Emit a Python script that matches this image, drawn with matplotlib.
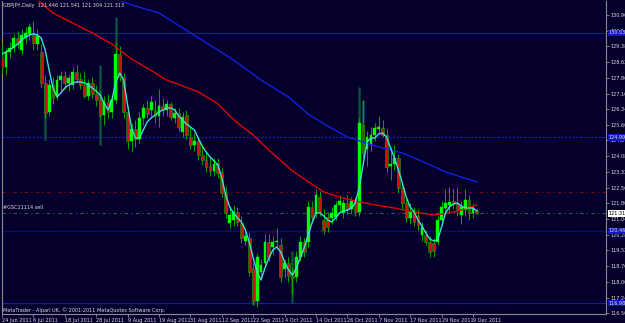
import matplotlib
matplotlib.use("Agg")
from matplotlib import pyplot as plt
import matplotlib.transforms as mtrans

BG = "#04002b"
GRID = "#8c8c8c"
TXT = "#dcdcdc"
FONT = ["Liberation Sans Narrow", "DejaVu Sans"]
FS = 4.0

# daily candles 24 Jun .. 12 Dec 2011 (GBPJPY)
opens = [128.87, 128.40, 129.10, 129.30, 129.80, 129.20, 129.78, 130.00, 129.93, 129.50,
         129.10, 127.60, 126.20, 127.50, 127.00, 127.75, 127.95, 127.60, 127.50, 128.14,
         127.80, 127.50, 127.00, 127.60, 127.10, 126.80, 126.06, 126.70, 126.20, 126.80,
         129.00, 127.90, 126.20, 124.80, 125.40, 124.90, 125.90, 126.40, 126.30, 126.30,
         126.00, 126.50, 126.30, 126.60, 125.92, 126.16, 125.24, 126.06, 125.00, 124.60,
         124.80, 124.13, 123.89, 123.60, 123.36, 123.74, 123.30, 122.30, 120.85, 121.00,
         121.40, 120.85, 120.00, 120.12, 118.60, 117.10, 118.50, 118.92, 119.93, 119.69,
         119.95, 119.78, 118.60, 118.90, 118.30, 118.24, 119.20, 119.93, 119.93, 121.62,
         121.33, 122.10, 121.00, 121.14, 121.09, 121.14, 121.72, 121.33, 121.81, 121.50,
         121.90, 121.40, 125.58, 124.40, 124.60, 125.10, 125.40, 125.44, 125.10, 123.60,
         123.70, 123.99, 122.54, 121.80, 121.09, 121.38, 121.20, 120.27, 120.27, 119.93,
         119.90, 119.93, 120.99, 121.57, 121.72, 121.90, 121.81, 121.23, 121.47, 121.96,
         121.33, 121.446]
highs = [129.50, 129.30, 129.60, 130.00, 130.10, 130.20, 130.30, 130.50, 130.60, 130.20,
         129.50, 128.00, 127.80, 127.90, 128.00, 128.20, 128.20, 128.00, 128.40, 128.50,
         128.10, 128.20, 127.80, 127.90, 127.50, 127.20, 127.00, 127.10, 127.00, 129.60,
         129.40, 128.10, 126.50, 125.70, 125.80, 126.20, 126.60, 126.80, 127.00, 126.80,
         127.30, 126.90, 126.80, 126.70, 126.40, 126.40, 126.20, 126.30, 125.50, 125.20,
         125.00, 124.60, 124.30, 124.00, 124.00, 124.00, 123.50, 122.60, 121.60, 121.70,
         121.60, 121.20, 120.50, 120.40, 118.90, 119.40, 119.10, 120.30, 120.30, 120.20,
         120.60, 120.10, 119.10, 119.20, 118.70, 119.50, 120.20, 120.10, 121.90, 121.90,
         122.50, 122.40, 121.50, 121.40, 121.60, 121.90, 122.20, 122.00, 122.20, 122.10,
         122.10, 125.90, 126.80, 125.30, 125.50, 125.70, 126.00, 125.80, 125.40, 124.50,
         124.60, 124.20, 122.80, 122.00, 121.80, 121.60, 121.50, 120.90, 120.50, 120.20,
         120.10, 121.20, 121.90, 122.50, 122.60, 122.50, 122.60, 121.90, 122.50, 122.20,
         121.80, 121.541]
lows = [128.10, 128.00, 128.80, 129.10, 129.30, 129.00, 129.50, 129.70, 129.20, 129.20,
        127.40, 125.90, 126.00, 126.60, 126.80, 127.20, 127.30, 127.20, 127.30, 127.60,
        127.30, 126.90, 126.80, 126.90, 126.50, 125.90, 125.60, 125.90, 125.90, 126.60,
        127.70, 125.90, 124.40, 124.30, 124.50, 124.70, 125.60, 125.90, 126.00, 125.70,
        125.50, 126.00, 126.00, 125.80, 125.70, 125.30, 125.00, 124.90, 124.40, 124.30,
        123.90, 123.70, 123.30, 123.10, 123.10, 123.00, 122.10, 121.10, 120.60, 120.70,
        120.70, 119.90, 119.80, 118.30, 116.90, 116.80, 118.20, 118.70, 119.00, 119.30,
        119.60, 118.00, 118.20, 118.00, 117.40, 118.00, 119.00, 119.20, 119.70, 120.90,
        121.10, 121.20, 120.30, 120.40, 120.80, 121.00, 121.40, 121.10, 121.30, 121.30,
        121.20, 121.20, 124.00, 123.60, 124.30, 124.80, 125.20, 125.00, 123.30, 122.90,
        123.40, 122.30, 121.50, 120.90, 120.80, 120.70, 120.50, 120.00, 119.80, 119.20,
        119.20, 119.80, 120.80, 121.30, 121.40, 121.50, 121.20, 120.80, 121.20, 121.00,
        121.10, 121.304]
closes = [128.33, 129.10, 129.30, 129.80, 129.50, 129.93, 130.03, 130.30, 129.54, 129.90,
          127.60, 126.16, 127.50, 126.90, 127.75, 127.95, 127.60, 127.85, 128.14, 127.80,
          127.50, 127.00, 127.60, 127.10, 126.80, 126.06, 126.70, 126.20, 126.80, 129.00,
          127.90, 126.20, 124.80, 125.40, 124.90, 125.90, 126.40, 126.10, 126.70, 126.00,
          126.50, 126.30, 126.60, 125.95, 126.16, 125.48, 125.97, 125.10, 124.60, 124.80,
          124.13, 123.89, 123.55, 123.35, 123.70, 123.26, 122.30, 121.33, 121.23, 121.40,
          120.90, 120.12, 120.20, 118.48, 117.10, 119.20, 118.82, 119.93, 119.20, 119.93,
          120.00, 118.24, 118.90, 118.30, 118.20, 119.20, 119.93, 119.45, 121.62, 121.14,
          122.20, 121.38, 120.50, 120.65, 121.33, 121.72, 121.90, 121.81, 121.50, 121.90,
          121.40, 125.70, 124.24, 125.00, 125.10, 125.44, 125.50, 125.10, 123.55, 123.70,
          124.00, 122.54, 121.81, 121.10, 121.38, 120.90, 120.75, 120.65, 119.93, 119.45,
          119.50, 120.99, 121.62, 121.81, 121.86, 121.80, 121.47, 121.62, 121.96, 121.33,
          121.57, 121.313]

# long dark spikes (intervention days etc.)
spike_bars = [11, 25, 29, 64, 74, 91, 92]
spike_top = [127.60, 128.48, 130.80, 118.70, 119.50, 127.40, 126.80]
spike_bot = [124.86, 124.60, 126.80, 116.90, 117.00, 121.70, 124.20]

# cyan fast MA, one value per bar
ma_fast = [129.01, 129.11, 129.20, 129.35, 129.49, 129.69, 129.83, 129.93, 129.98, 129.93,
           129.78, 129.20, 128.24, 127.37, 126.93, 127.13, 127.37, 127.51, 127.61, 127.66,
           127.66, 127.61, 127.51, 127.37, 127.22, 127.03, 126.64, 126.31, 126.79, 127.66,
           128.09, 127.75, 126.55, 125.44, 124.95, 124.95, 125.34, 125.73, 125.92, 126.06,
           126.21, 126.31, 126.40, 126.40, 126.31, 126.02, 125.82, 125.63, 125.48, 125.34,
           124.95, 124.57, 124.28, 124.04, 123.84, 123.65, 123.02, 122.20, 121.62, 121.33,
           121.09, 120.90, 120.51, 119.93, 119.16, 118.48, 118.09, 118.67, 119.16, 119.54,
           119.69, 119.45, 118.96, 118.58, 118.33, 118.67, 119.16, 119.64, 120.27, 120.85,
           121.33, 121.33, 121.18, 120.99, 120.90, 121.09, 121.33, 121.43, 121.47, 121.57,
           121.81, 122.54, 123.65, 124.76, 124.95, 124.95, 125.15, 125.19, 125.00, 124.47,
           123.99, 123.41, 122.78, 122.10, 121.62, 121.38, 120.99, 120.70, 120.36, 120.07,
           119.98, 120.03, 120.65, 121.33, 121.62, 121.76, 121.81, 121.67, 121.57, 121.57,
           121.57, 121.43]

# red and blue slow MAs, read at sample bars
red_bars = [0, 4, 8, 9, 13, 16, 19, 23, 28, 33, 37, 42, 46, 50, 55, 58, 61, 64, 68, 74,
            77, 82, 86, 90, 95, 100, 105, 110, 114, 118, 121]
red_ma = [132.49, 132.10, 131.76, 131.62, 130.99, 130.70, 130.41, 130.03, 129.49, 128.77,
          128.33, 127.75, 127.47, 127.18, 126.60, 126.02, 125.53, 125.10, 124.37, 123.36,
          122.97, 122.34, 122.10, 121.91, 121.72, 121.57, 121.38, 121.23, 121.33, 121.52,
          121.72]
blue_bars = [29, 33, 40, 48, 55, 59, 66, 73, 78, 83, 88, 96, 102, 108, 113, 121]
blue_ma = [131.67, 131.38, 130.99, 130.03, 129.20, 128.72, 127.75, 126.93, 126.11, 125.53,
           125.00, 124.52, 124.23, 123.75, 123.31, 122.83]

date_labels = ["24 Jun 2011", "6 Jul 2011", "18 Jul 2011", "28 Jul 2011", "9 Aug 2011",
               "19 Aug 2011", "31 Aug 2011", "12 Sep 2011", "22 Sep 2011", "4 Oct 2011",
               "14 Oct 2011", "26 Oct 2011", "7 Nov 2011", "17 Nov 2011", "29 Nov 2011",
               "9 Dec 2011"]
price_labels = ["130.900", "130.140", "129.380", "128.620", "127.860", "127.100", "126.340",
                "125.600", "124.840", "124.080", "123.320", "122.560", "121.800", "121.040",
                "120.280", "119.520", "118.760", "118.000", "117.240", "116.500"]

fig = plt.figure(figsize=(6.25, 3.23), dpi=100, facecolor=BG)
ax = fig.add_axes([2 / 625, 9 / 323, 604 / 625, 313 / 323], facecolor=BG)
ax.set_xlim(0, 153.9)
ax.set_ylim(116.45, 131.57)

# horizontal levels
ax.axhline(130.03, color="#1414c8", lw=0.9)
ax.axhline(124.99, color="#1414c8", lw=0.9, ls=(0, (2, 1)))
ax.axhline(122.34, color="#7a0a0a", lw=0.8, ls=(0, (3, 3, 1, 3)))
ax.axhline(121.31, color="#1d6b45", lw=0.8, ls=(0, (3, 3, 1, 3)))
ax.axhline(120.46, color="#1414c8", lw=0.9, ls=(0, (1, 1)))
ax.axhline(116.98, color="#1414c8", lw=0.9)

# candles
ax.vlines(spike_bars, spike_bot, spike_top, color="#0f4d3c", lw=1.8, zorder=2)
xs = list(range(len(closes)))
ax.vlines(xs, lows, highs, color="#00a800", lw=0.7, zorder=3)
for i in xs:
    o, c = opens[i], closes[i]
    h = max(abs(c - o), 0.03)
    if c >= o:
        ax.bar(i, h, bottom=o, width=0.72, color="#00ff00", edgecolor="#00ff00",
               lw=0.3, zorder=4)
    else:
        ax.bar(i, h, bottom=c, width=0.72, color="#d01010", edgecolor="#00a800",
               lw=0.4, zorder=4)

ax.plot(red_bars, red_ma, color="#e00000", lw=1.0, zorder=5)
ax.plot(blue_bars, blue_ma, color="#1020e0", lw=1.0, zorder=5)
ax.plot(xs, ma_fast, color="#40e0d0", lw=1.0, zorder=6)

ax.spines["top"].set_visible(False)
for s in ["left", "right", "bottom"]:
    ax.spines[s].set_color(GRID)
    ax.spines[s].set_linewidth(0.8)

ax.yaxis.tick_right()
yvals = [float(v) for v in price_labels]
ax.set_yticks(yvals)
ax.set_yticklabels(price_labels, fontsize=FS, family=FONT, color=TXT, fontstretch="condensed")
ax.set_xticks(range(0, 8 * len(date_labels), 8))
ax.set_xticklabels(date_labels, fontsize=FS, family=FONT, color=TXT, ha="left",
                   fontstretch="condensed")
ax.tick_params(axis="both", colors=GRID, length=2, width=0.6, pad=1)
ax.tick_params(axis="x", labelcolor=TXT)
ax.tick_params(axis="y", labelcolor=TXT)

# price boxes on the right
tr = mtrans.blended_transform_factory(ax.transAxes, ax.transData)
for val, txt, fc, tc in [(130.03, "130.030", "#1414c8", "#dcdcdc"),
                         (124.99, "124.990", "#1414c8", "#dcdcdc"),
                         (121.313, "121.313", "#ffffff", "#000000"),
                         (120.46, "120.460", "#1414c8", "#dcdcdc"),
                         (116.98, "116.980", "#1414c8", "#dcdcdc")]:
    ax.text(1.004, val, txt, transform=tr, fontsize=FS, family=FONT, color=tc,
            va="center", ha="left", clip_on=False, fontstretch="condensed",
            bbox=dict(facecolor=fc, edgecolor="none", pad=0.6), zorder=7)

fig.text(3 / 625, 1 - 5 / 323, "GBPJPY,Daily  121.446 121.541 121.304 121.313",
         fontsize=FS, family=FONT, color=TXT, va="center", fontstretch="condensed")
ax.text(0.002, 121.45, "#GSC21114 sell", fontsize=FS, family=FONT, color=TXT,
        va="bottom", transform=tr, fontstretch="condensed")
fig.text(3 / 625, 1 - 310 / 323,
         "MetaTrader - Alpari UK, \u00a9 2001-2011 MetaQuotes Software Corp.",
         fontsize=FS, family=FONT, color=TXT, va="center", fontstretch="condensed")

fig.savefig("out.png", dpi=100, facecolor=BG)
